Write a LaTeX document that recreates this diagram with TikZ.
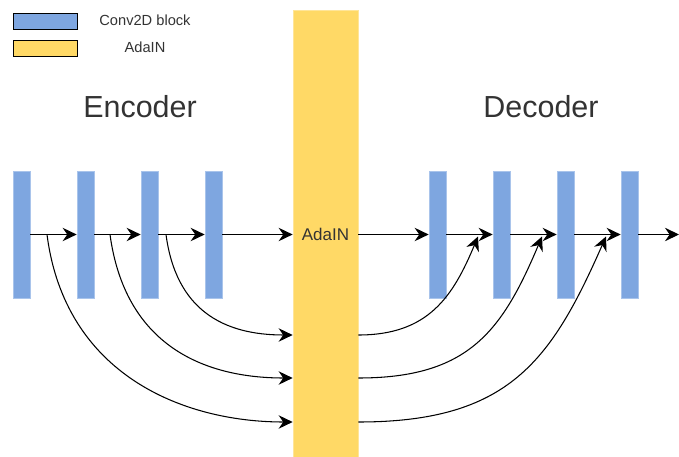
\documentclass[tikz,border=0pt]{standalone}
\usepackage{fontspec}
\setmainfont{Liberation Sans}
\usetikzlibrary{arrows.meta}
\definecolor{convblue}{HTML}{7EA6E0}
\definecolor{convedge}{HTML}{A9C4EB}
\definecolor{adayellow}{HTML}{FFD966}
\definecolor{adaedge}{HTML}{FFE599}
\definecolor{txtgray}{HTML}{333333}
\tikzset{
  conv/.style={rectangle, fill=convblue, draw=convedge, line width=0.6pt,
    minimum width=0.51cm, minimum height=3.81cm, inner sep=0pt},
  flow/.style={line width=0.9pt, -{Stealth[length=12pt,width=11.5pt,inset=4pt]}},
  keybox/.style={rectangle, draw=black, line width=0.7pt,
    minimum width=1.92cm, minimum height=0.48cm, inner sep=0pt},
  keytext/.style={text=txtgray, font=\fontsize{12.5}{14}\selectfont},
  title/.style={text=txtgray, font=\fontsize{26}{30}\selectfont}
}
\begin{document}
\begin{tikzpicture}[x=0.03cm, y=-0.03cm]
  \useasboundingbox (0,0) rectangle (679,457);
  % legend
  \node[keybox, fill=convblue] (kconv) at (45,21) {};
  \node[keybox, fill=adayellow] (kada) at (45,48) {};
  \node[keytext] (lconv) at (145,20) {Conv2D block};
  \node[keytext] (lada) at (145,47) {AdaIN};
  % titles
  \node[title] (enc) at (140,107) {Encoder};
  \node[title] (dec) at (541,107) {Decoder};
  % AdaIN bar
  \node[rectangle, fill=adayellow, draw=adaedge, line width=0.6pt,
    minimum width=1.95cm, minimum height=13.47cm, inner sep=0pt,
    text=txtgray, font=\fontsize{14.5}{16}\selectfont] (ada) at (325.5,234.5) {AdaIN};
  % blocks
  \foreach \i in {1,...,4} {
    \node[conv] (e\i) at ({21.5+64*(\i-1)},234.5) {};
    \node[conv] (d\i) at ({437.5+64*(\i-1)},234.5) {};
  }
  % main path
  \draw[flow] (e1.east) -- (e2.west);
  \draw[flow] (e2.east) -- (e3.west);
  \draw[flow] (e3.east) -- (e4.west);
  \draw[flow] (e4.east) -- (ada.west);
  \draw[flow] (ada.east) -- (d1.west);
  \draw[flow] (d1.east) -- (d2.west);
  \draw[flow] (d2.east) -- (d3.west);
  \draw[flow] (d3.east) -- (d4.west);
  \coordinate (out) at (679,234.5);
  \draw[flow] (d4.east) -- (out);
  % skip connections
  \coordinate (s1) at (47,234.5);
  \coordinate (s2) at (110,234.5);
  \coordinate (s3) at (166,234.5);
  \coordinate (h1) at (0,422);
  \coordinate (h2) at (0,378);
  \coordinate (h3) at (0,335);
  \coordinate (u1) at (478,236.5);
  \coordinate (u2) at (542,236.5);
  \coordinate (u3) at (606,236.5);
  \draw[flow] (s1) .. controls +(18,140) and +(-110,0) .. (ada.west |- h1);
  \draw[flow] (s2) .. controls +(15,110) and +(-90,0) .. (ada.west |- h2);
  \draw[flow] (s3) .. controls +(10,75) and +(-70,0) .. (ada.west |- h3);
  \draw[flow] (ada.east |- h3) .. controls +(70,0) and +(-25,60) .. (u1);
  \draw[flow] (ada.east |- h2) .. controls +(110,0) and +(-40,95) .. (u2);
  \draw[flow] (ada.east |- h1) .. controls +(150,0) and +(-55,125) .. (u3);
\end{tikzpicture}
\end{document}
